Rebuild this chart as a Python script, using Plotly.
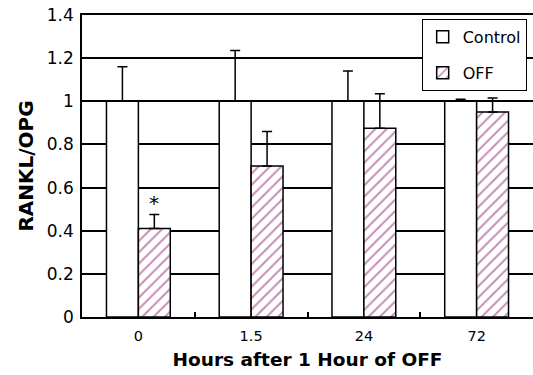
import plotly.graph_objects as go

categories = ["0", "1.5", "24", "72"]
control = [1.0, 1.0, 1.0, 1.0]
control_err = [0.16, 0.235, 0.14, 0.01]
off = [0.41, 0.70, 0.875, 0.95]
off_err = [0.065, 0.16, 0.16, 0.065]
zeros = [0, 0, 0, 0]

FONT = "DejaVu Sans, Liberation Sans, Arial, sans-serif"

fig = go.Figure()
fig.add_trace(go.Bar(
    x=categories, y=control, name="Control", legendgroup="a",
    marker=dict(color="white", line=dict(color="black", width=1.5)),
    error_y=dict(type="data", array=control_err, arrayminus=zeros, symmetric=False,
                 color="black", thickness=1.5, width=5),
))
fig.add_trace(go.Bar(
    x=categories, y=off, name="OFF", legendgroup="b",
    marker=dict(color="white", line=dict(color="black", width=1.5),
                pattern=dict(shape="/", fgcolor="#8a1c6c", bgcolor="white",
                             size=8, solidity=0.25)),
    error_y=dict(type="data", array=off_err, arrayminus=zeros, symmetric=False,
                 color="black", thickness=1.5, width=5),
))

fig.add_annotation(x=categories[0], y=off[0] + off_err[0] + 0.055, text="*",
                   showarrow=False, xshift=16, font=dict(size=20, color="black", family=FONT))

fig.update_layout(
    width=533, height=375,
    margin=dict(l=82, r=0, t=15, b=58),
    paper_bgcolor="white", plot_bgcolor="white",
    barmode="group", bargap=0.434, bargroupgap=0,
    font=dict(family=FONT, color="black", size=14),
    showlegend=True,
    legend=dict(x=0.986, y=0.987, xanchor="right", yanchor="top",
                bordercolor="black", borderwidth=1, bgcolor="white",
                font=dict(size=16, family=FONT), tracegroupgap=12,
                traceorder="grouped"),
    xaxis=dict(type="category", range=[-0.5, 3.5], showline=True, linecolor="black",
               linewidth=1.5, mirror=True, ticks="inside", tickson="boundaries",
               ticklen=5, tickwidth=1.5, tickcolor="black", showgrid=False,
               tickfont=dict(size=14.5), ticklabelstandoff=5,
               title=dict(text="<b>Hours after 1 Hour of OFF</b>", font=dict(size=18.5), standoff=10)),
    yaxis=dict(range=[0, 1.4], dtick=0.2, showline=True, linecolor="black", linewidth=1.5,
               showgrid=True, gridcolor="black", gridwidth=1.5, zeroline=False,
               ticks="", tickfont=dict(size=17), ticklabelstandoff=3,
               tickvals=[0, 0.2, 0.4, 0.6, 0.8, 1.0, 1.2, 1.4],
               ticktext=["0", "0.2", "0.4", "0.6", "0.8", "1", "1.2", "1.4"],
               title=dict(text="<b>RANKL/OPG</b>", font=dict(size=20), standoff=8)),
)

fig.write_html("out.html", config={"displayModeBar": False},
               post_script="document.body.style.margin='0';document.body.style.overflow='hidden';")
